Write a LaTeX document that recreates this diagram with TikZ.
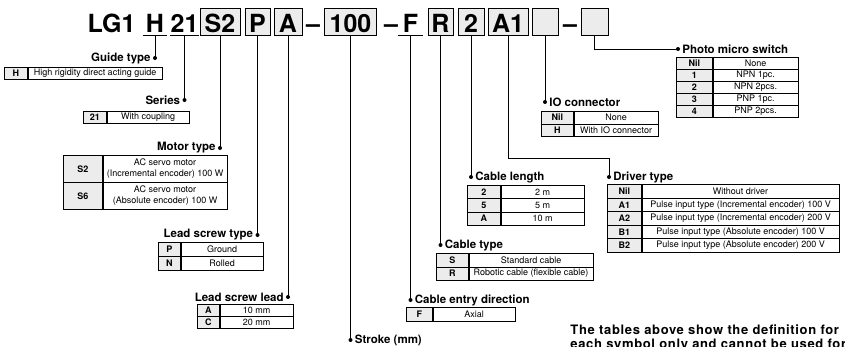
\documentclass[tikz,border=0pt]{standalone}
\usepackage{fontspec}
\setmainfont{TeX Gyre Heros}
\usetikzlibrary{positioning}
\begin{document}
\begin{tikzpicture}[x=1pt, y=-1pt, line width=0.9pt]
  \tikzset{
    hdr/.style={font=\fontsize{25}{25}\selectfont\bfseries, inner xsep=2pt, inner ysep=0pt, minimum height=27pt, text height=21pt, text depth=0pt},
    hbox/.style={hdr, draw, line width=0.8pt, fill=gray!15, inner xsep=0pt},
    dot/.style={circle, fill, inner sep=0pt, minimum size=4pt},
    lbl/.style={font=\fontsize{11.5}{13}\selectfont\bfseries, inner sep=1pt},
    keycell/.style={draw, line width=0.7pt, fill=gray!15, font=\fontsize{9}{11}\selectfont\bfseries, inner sep=0pt, anchor=north west},
    valcell/.style={draw, line width=0.7pt, fill=white, font=\fontsize{9}{11}\selectfont, inner sep=0pt, align=center, anchor=north west}
  }
  \clip (0,0) rectangle (845,346);

  % order code
  \node[hdr] (lg) at (111.5,21.5) {LG1};
  \node[hdr, minimum width=24pt, inner xsep=0pt] (h) at (155,21.5) {H};
  \node[hdr, minimum width=25pt, inner xsep=0pt] (ser) at (184.5,21.5) {21};
  \node[hbox, minimum width=40pt] (s2) at (220,21.5) {S2};
  \node[hbox, minimum width=25pt] (p) at (257.5,21.5) {P};
  \node[hbox, minimum width=28pt] (a) at (288,21.5) {A};
  \node[hdr] (d1) at (313,21.5) {\textendash};
  \node[hbox, minimum width=52pt] (st) at (350.5,21.5) {100};
  \node[hdr] (d2) at (391,21.5) {\textendash};
  \node[hdr, minimum width=25pt, inner xsep=0pt] (f) at (410.5,21.5) {F};
  \node[hbox, minimum width=25pt] (r) at (440.5,21.5) {R};
  \node[hbox, minimum width=26pt] (two) at (471,21.5) {2};
  \node[hbox, minimum width=40pt] (a1) at (508,21.5) {A1};
  \node[hbox, minimum width=26pt] (e1) at (545,21.5) {};
  \node[hdr] (d3) at (570,21.5) {\textendash};
  \node[hbox, minimum width=27pt] (e2) at (594.5,21.5) {};
  \draw (h.south west) -- (h.south east);
  \draw (ser.south west) -- (ser.south east);
  \draw (f.south west) -- (f.south east);

  % dots and labels
  \node[dot] (gdot) at (h |- 0,58) {};
  \node[lbl, left=0.5pt of gdot] (glbl) {Guide type};
  \node[dot] (sdot) at (ser |- 0,100) {};
  \node[lbl, left=0.5pt of sdot] (slbl) {Series};
  \node[dot] (mdot) at (s2 |- 0,148) {};
  \node[lbl, left=0.5pt of mdot] (mlbl) {Motor type};
  \node[dot] (ltdot) at (p |- 0,235) {};
  \node[lbl, left=0.5pt of ltdot] (ltlbl) {Lead screw type};
  \node[dot] (lldot) at (a |- 0,297) {};
  \node[lbl, left=0.5pt of lldot] (lllbl) {Lead screw lead};
  \node[dot] (stdot) at (st |- 0,340) {};
  \node[lbl, right=0.5pt of stdot] (stlbl) {Stroke (mm)};
  \node[dot] (cedot) at (f |- 0,300) {};
  \node[lbl, right=0.5pt of cedot] (celbl) {Cable entry direction};
  \node[dot] (ctdot) at (r |- 0,245) {};
  \node[lbl, right=0.5pt of ctdot] (ctlbl) {Cable type};
  \node[dot] (cldot) at (two |- 0,177) {};
  \node[lbl, right=0.5pt of cldot] (cllbl) {Cable length};
  \node[dot] (drdot) at (609,177) {};
  \node[lbl, right=0.5pt of drdot] (drlbl) {Driver type};
  \node[dot] (iodot) at (e1 |- 0,102) {};
  \node[lbl, right=0.5pt of iodot] (iolbl) {IO connector};
  \node[dot] (phdot) at (678,49) {};
  \node[lbl, right=0.5pt of phdot] (phlbl) {Photo micro switch};

  % connectors
  \draw (h.south) -- (gdot.center);
  \draw (ser.south) -- (sdot.center);
  \draw (s2.south) -- (mdot.center);
  \draw (p.south) -- (ltdot.center);
  \draw (a.south) -- (lldot.center);
  \draw (st.south) -- (stdot.center);
  \draw (f.south) -- (cedot.center);
  \draw (r.south) -- (ctdot.center);
  \draw (two.south) -- (cldot.center);
  \coordinate (drbend) at (a1 |- 0,158);
  \draw (a1.south) -- (drbend) -| (drdot.center);
  \draw (e1.south) -- (iodot.center);
  \draw (e2.south) |- (phdot.center);

  % tables
  \foreach \k/\v [count=\i from 0] in {H/High rigidity direct acting guide} {
    \node[keycell, minimum width=23pt, minimum height=12pt] (gt-k\i) at (4,{67+12*\i}) {\k};
    \node[valcell, minimum width=134pt, minimum height=12pt] (gt-v\i) at (gt-k\i.north east) {\v};
  }
  \foreach \k/\v [count=\i from 0] in {21/With coupling} {
    \node[keycell, minimum width=23pt, minimum height=12pt] (se-k\i) at (83,{111+12*\i}) {\k};
    \node[valcell, minimum width=82pt, minimum height=12pt] (se-v\i) at (se-k\i.north east) {\v};
  }
  \foreach \k/\v [count=\i from 0] in {S2/{AC servo motor\\(Incremental encoder) 100 W}, S6/{AC servo motor\\(Absolute encoder) 100 W}} {
    \node[keycell, minimum width=39pt, minimum height=27pt] (mo-k\i) at (63,{155+27*\i}) {\k};
    \node[valcell, minimum width=124pt, minimum height=27pt] (mo-v\i) at (mo-k\i.north east) {\v};
  }
  \foreach \k/\v [count=\i from 0] in {P/Ground, N/Rolled} {
    \node[keycell, minimum width=22pt, minimum height=14pt] (lt-k\i) at (158,{242+14*\i}) {\k};
    \node[valcell, minimum width=82pt, minimum height=14pt] (lt-v\i) at (lt-k\i.north east) {\v};
  }
  \foreach \k/\v [count=\i from 0] in {A/10 mm, C/20 mm} {
    \node[keycell, minimum width=22pt, minimum height=12pt] (ll-k\i) at (197,{304+12*\i}) {\k};
    \node[valcell, minimum width=73pt, minimum height=12pt] (ll-v\i) at (ll-k\i.north east) {\v};
  }
  \foreach \k/\v [count=\i from 0] in {F/Axial} {
    \node[keycell, minimum width=26pt, minimum height=14pt] (ce-k\i) at (406,{307+14*\i}) {\k};
    \node[valcell, minimum width=82pt, minimum height=14pt] (ce-v\i) at (ce-k\i.north east) {\v};
  }
  \foreach \k/\v [count=\i from 0] in {S/Standard cable, R/Robotic cable (flexible cable)} {
    \node[keycell, minimum width=32pt, minimum height=13.5pt] (ct-k\i) at (436,{253+13.5*\i}) {\k};
    \node[valcell, minimum width=124pt, minimum height=13.5pt] (ct-v\i) at (ct-k\i.north east) {\v};
  }
  \foreach \k/\v [count=\i from 0] in {2/2 m, 5/5 m, A/10 m} {
    \node[keycell, minimum width=33pt, minimum height=13.3pt] (cl-k\i) at (467,{185+13.3*\i}) {\k};
    \node[valcell, minimum width=83pt, minimum height=13.3pt] (cl-v\i) at (cl-k\i.north east) {\v};
  }
  \foreach \k/\v [count=\i from 0] in {Nil/Without driver, A1/Pulse input type (Incremental encoder) 100 V, A2/Pulse input type (Incremental encoder) 200 V, B1/Pulse input type (Absolute encoder) 100 V, B2/Pulse input type (Absolute encoder) 200 V} {
    \node[keycell, minimum width=34pt, minimum height=13.6pt] (dr-k\i) at (607,{184+13.6*\i}) {\k};
    \node[valcell, minimum width=197pt, minimum height=13.6pt] (dr-v\i) at (dr-k\i.north east) {\v};
  }
  \foreach \k/\v [count=\i from 0] in {Nil/None, H/With IO connector} {
    \node[keycell, minimum width=32pt, minimum height=12.5pt] (io-k\i) at (541,{111+12.5*\i}) {\k};
    \node[valcell, minimum width=84pt, minimum height=12.5pt] (io-v\i) at (io-k\i.north east) {\v};
  }
  \foreach \k/\v [count=\i from 0] in {Nil/None, 1/NPN 1pc., 2/NPN 2pcs., 3/PNP 1pc., 4/PNP 2pcs.} {
    \node[keycell, minimum width=36pt, minimum height=12pt] (ph-k\i) at (676,{57+12*\i}) {\k};
    \node[valcell, minimum width=85pt, minimum height=12pt] (ph-v\i) at (ph-k\i.north east) {\v};
  }

  % note
  \node[font=\fontsize{13}{14}\selectfont\bfseries\addfontfeature{LetterSpace=5}, align=left, anchor=north west, inner sep=0pt] (note) at (570,324) {The tables above show the definition for\\each symbol only and cannot be used for};
\end{tikzpicture}
\end{document}
